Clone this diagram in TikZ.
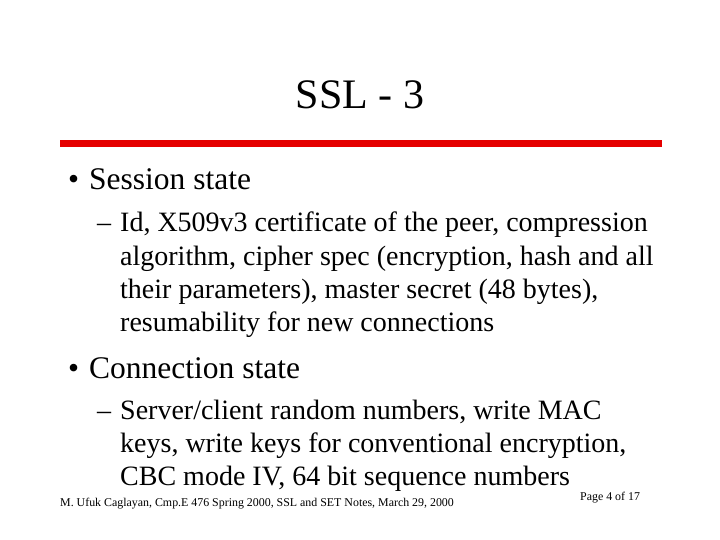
\documentclass[tikz,border=0pt]{standalone}
\usepackage{fontspec}
\setmainfont{Liberation Serif}
\begin{document}
\begin{tikzpicture}[x=1pt,y=-1pt,
  txt/.style={anchor=base west,inner sep=0pt,font=\fontsize{28}{32}\selectfont},
  big/.style={anchor=base west,inner sep=0pt,font=\fontsize{31.5}{36}\selectfont},
  foot/.style={anchor=base west,inner sep=0pt,font=\fontsize{11.9}{14}\selectfont}]
\useasboundingbox (0,0) rectangle (720,540);
\node[anchor=base,inner sep=0pt,font=\fontsize{42}{48}\selectfont] (title) at (360,109) {SSL - 3};
\fill[red!90!black] (60,140) rectangle (662,147);
\node[big] (b1) at (68,190) {•};
\node[big] (b1t) at (89,190) {Session state};
\node[txt] (d1) at (97,232) {–};
\node[txt] (l1) at (120,232) {Id, X509v3 certificate of the peer, compression};
\node[txt] (l2) at (120,265) {algorithm, cipher spec (encryption, hash and all};
\node[txt] (l3) at (120,298) {their parameters), master secret (48 bytes),};
\node[txt] (l4) at (120,331) {resumability for new connections};
\node[big] (b2) at (68,378) {•};
\node[big] (b2t) at (89,378) {Connection state};
\node[txt] (d2) at (97,419) {–};
\node[txt] (m1) at (120,419) {Server/client random numbers, write MAC};
\node[txt] (m2) at (120,452) {keys, write keys for conventional encryption,};
\node[txt] (m3) at (120,485) {CBC mode IV, 64 bit sequence numbers};
\node[foot] (f1) at (60,506) {M. Ufuk Caglayan, Cmp.E 476 Spring 2000, SSL and SET Notes, March 29, 2000};
\node[foot] (f2) at (580,500) {Page 4 of 17};
\end{tikzpicture}
\end{document}
